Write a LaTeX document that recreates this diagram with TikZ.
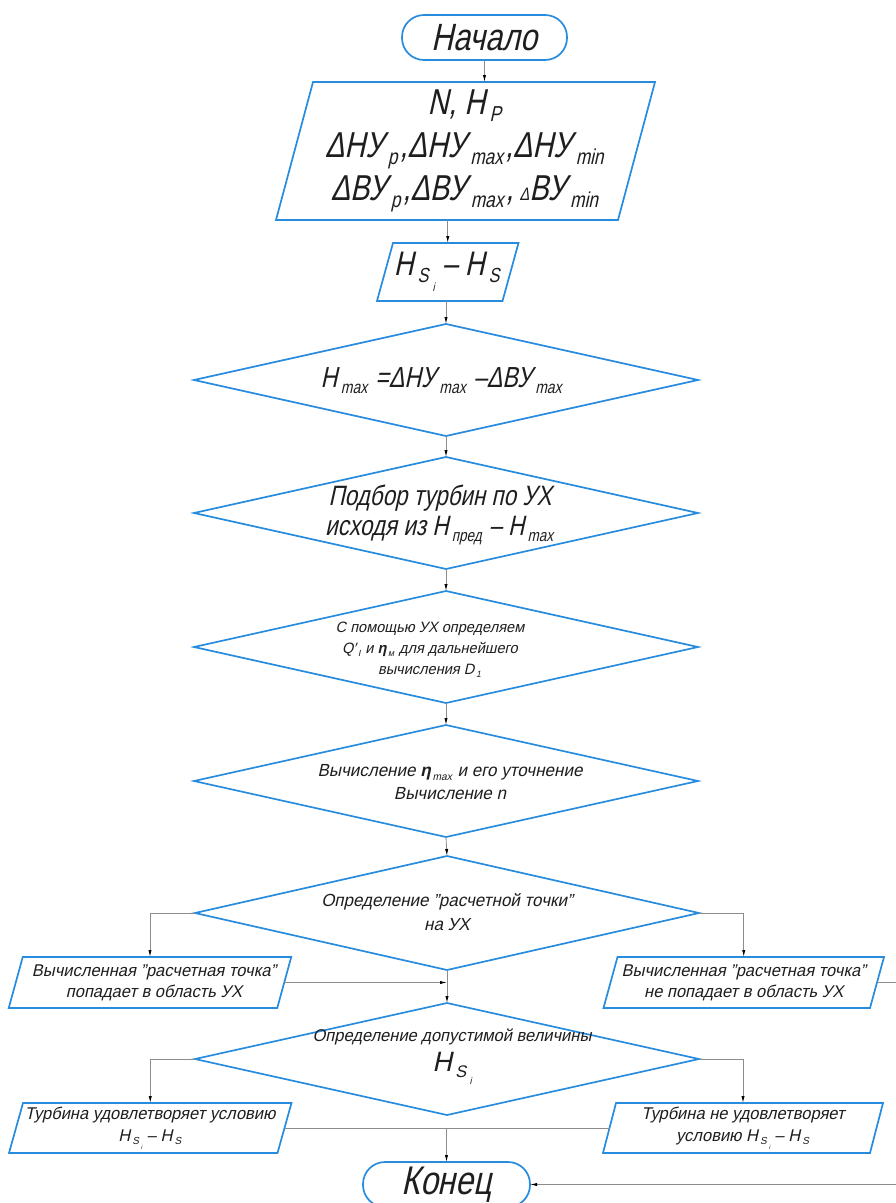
\documentclass[tikz,border=0pt]{standalone}
\usepackage{fontspec}
\setmainfont{Liberation Sans}[FakeSlant=0.22,FakeStretch=0.97]
\newfontfamily\bigf{Liberation Sans}[FakeSlant=0.22,FakeStretch=0.8]
\usetikzlibrary{shapes.geometric,arrows.meta}
\definecolor{fcblue}{RGB}{40,140,222}
\definecolor{txtc}{RGB}{30,30,30}
\newcommand\lo[1]{\kern0.12em\relax\raisebox{-0.4ex}{\scalebox{0.6}{#1}}\kern0.06em\relax}
\newcommand\loi{\kern0.06em\relax\raisebox{-0.9ex}{\scalebox{0.35}{i}}}
\newcommand\paraline[2]{\draw[shp] ([xshift=#2]#1.north west) -- ([xshift=#2]#1.north east) -- ([xshift=-#2]#1.south east) -- ([xshift=-#2]#1.south west) -- cycle;}
\begin{document}
\begin{tikzpicture}[x=1pt,y=-1pt,
  shp/.style={draw=fcblue, line width=1.7pt},
  term/.style={shp, rounded corners=22pt, minimum height=45pt, inner sep=0pt, outer sep=0pt, text=txtc},
  dia/.style={shp, diamond, minimum width=504pt, minimum height=112pt, inner sep=0pt, outer sep=0pt},
  para/.style={inner sep=0pt, outer sep=0pt, align=center, text=txtc},
  txt/.style={align=center, text=txtc, inner sep=0pt},
  conn/.style={draw=black!45, line width=0.8pt},
  arr/.style={conn, -{Latex[length=7pt,width=3.2pt,color=black]}},
]
\fill[white] (0,0) rectangle (896,1203);
\useasboundingbox (0,0) rectangle (896,1203);

% terminals
\node[term, minimum width=165pt, font=\bigf\fontsize{38}{44}\selectfont] (start) at (484.5,37.5) {Начало};
\node[term, minimum width=167pt, font=\bigf\fontsize{40}{44}\selectfont] (end) at (446.5,1184.5) {Конец};

% input parallelogram
\node[para, minimum width=342pt, minimum height=138pt, font=\bigf\fontsize{36}{43}\selectfont] (p1) at (465.5,151)
 {N, H\lo{P}\\ΔНУ\lo{p},ΔНУ\lo{max},ΔНУ\lo{min}\\ΔВУ\lo{p},ΔВУ\lo{max},\,\scalebox{0.5}{Δ}ВУ\lo{min}};
\paraline{p1}{18.5pt}

\node[para, minimum width=125.5pt, minimum height=58pt, font=\bigf\fontsize{34}{36}\selectfont] (hs) at (447.75,272)
 {H\lo{S}\loi{} – H\lo{S}};
\paraline{hs}{8pt}

% diamonds
\node[dia] (d1) at (446,380) {};
\node[txt, font=\bigf\fontsize{29}{32}\selectfont] (d1t) at (442,381) {H\lo{max} =ΔНУ\lo{max} –ΔВУ\lo{max}};

\node[dia] (d2) at (446,513) {};
\node[txt, font=\bigf\fontsize{28}{30}\selectfont] (d2t) at (440,515) {Подбор турбин по УХ\\исходя из H\lo{пред} – H\lo{max}};

\node[dia] (d3) at (446,647) {};
\node[txt, font=\fontsize{15}{21}\selectfont] (d3t) at (430,650) {С помощью УХ определяем\\Q′\lo{I} и \textbf{η}\lo{м} для дальнейшего\\вычисления D\lo{1}};

\node[dia] (d4) at (446,781) {};
\node[txt, font=\fontsize{17.5}{23}\selectfont] (d4t) at (450,782) {Вычисление \textbf{η}\lo{max} и его уточнение\\Вычисление n};

\node[dia, minimum height=114pt] (d5) at (447,913) {};
\node[txt, font=\fontsize{17.5}{24}\selectfont] (d5t) at (447,912) {Определение "расчетной точки"\\на УХ};

\node[dia] (d6) at (447,1059) {};
\node[txt, font=\fontsize{17}{30}\selectfont] (d6t) at (452,1057) {Определение допустимой величины\\{\fontsize{28}{28}\selectfont H\lo{S}\loi}};

% process boxes
\node[para, minimum width=268.5pt, minimum height=51pt, font=\fontsize{17}{21}\selectfont] (lb1) at (150,982.5)
 {\hspace*{8pt}Вычисленная "расчетная точка"\\\hspace*{8pt}попадает в область УХ};
\paraline{lb1}{7pt}
\node[para, minimum width=266.5pt, minimum height=51pt, font=\fontsize{17}{21}\selectfont] (rb1) at (743.75,982.5)
 {Вычисленная "расчетная точка"\\не попадает в область УХ};
\paraline{rb1}{7pt}
\node[para, minimum width=268.5pt, minimum height=50pt, font=\fontsize{17}{22}\selectfont] (lb2) at (150.25,1128)
 {Турбина удовлетворяет условию\\H\lo{S}\loi{} – H\lo{S}};
\paraline{lb2}{7pt}
\node[para, minimum width=267pt, minimum height=50pt, font=\fontsize{17}{22}\selectfont] (rb2) at (743,1128)
 {Турбина не удовлетворяет\\условию H\lo{S}\loi{} – H\lo{S}};
\paraline{rb2}{6.5pt}

% connectors
\coordinate (loop) at (903,1184.5);
\draw[arr] (start.south) -- (start.south |- p1.north);
\draw[arr] (p1.south -| hs.north) -- (hs.north);
\draw[arr] (d1.north |- hs.south) -- (d1.north);
\draw[arr] (d1.south) -- (d2.north);
\draw[arr] (d2.south) -- (d3.north);
\draw[arr] (d3.south) -- (d4.north);
\draw[arr] (d4.south) -- (d5.north);
\draw[arr] (d5.west) -| (lb1.north);
\draw[arr] (d5.east) -| (rb1.north);
\draw[arr] (lb1.east) -- (lb1.east -| d5.south);
\draw[arr] (d5.south) -- (d6.north);
\draw[arr] (rb1.east) -| (loop) -- (end.east);
\draw[arr] (d6.west) -| (lb2.north);
\draw[arr] (d6.east) -| (rb2.north);
\draw[conn] (lb2.east) -- (rb2.west);
\draw[arr] (lb2.east -| end.north) -- (end.north);
\end{tikzpicture}
\end{document}
